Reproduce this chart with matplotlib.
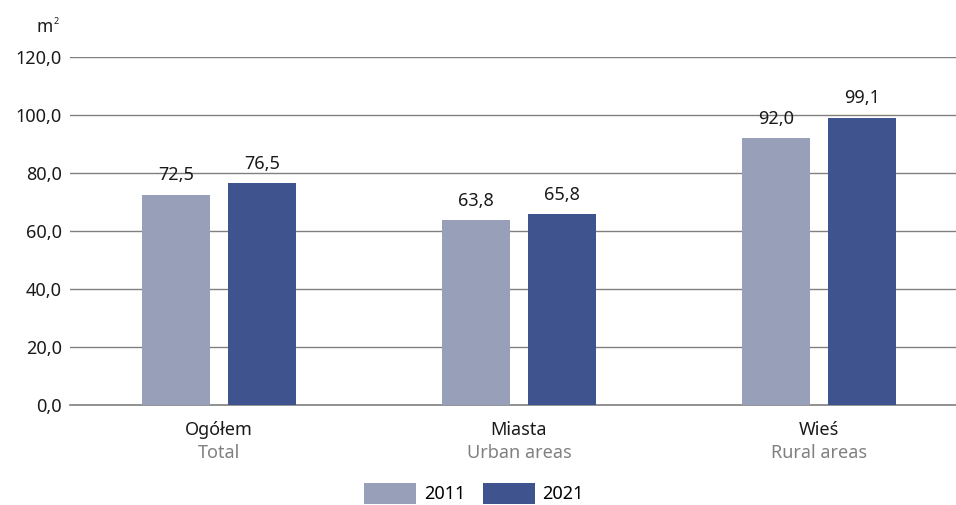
import matplotlib
matplotlib.use("Agg")
import matplotlib.pyplot as plt
import numpy as np
from matplotlib.patches import Patch

plt.rcParams['font.family'] = ['Noto Sans', 'DejaVu Sans']

categories_pl = ["Ogółem", "Miasta", "Wieś"]
categories_en = ["Total", "Urban areas", "Rural areas"]
years = ["2011", "2021"]
values_2011 = [72.5, 63.8, 92.0]
values_2021 = [76.5, 65.8, 99.1]
yticks = [0, 20, 40, 60, 80, 100, 120]

c2011 = "#97A0B8"
c2021 = "#3F538F"
grid_c = "#808080"
txt_c = "#1a1a1a"
FS = 13

fig = plt.figure(figsize=(9.56, 5.05), dpi=100)
ax = fig.add_axes([70/956, 100/505, 886/956, 348/505])

x = np.arange(len(categories_pl))
w = 68/300
off = 43/300
b1 = ax.bar(x - off, values_2011, width=w, color=c2011, zorder=3)
b2 = ax.bar(x + off, values_2021, width=w, color=c2021, zorder=3)

def fmt(v):
    return f"{v:.1f}".replace(".", ",")

for bars, vals in ((b1, values_2011), (b2, values_2021)):
    for r, v in zip(bars, vals):
        ax.annotate(fmt(v), (r.get_x() + r.get_width()/2, v), xytext=(0, 7.5),
                    textcoords="offset points", ha="center", va="bottom",
                    fontsize=FS, color=txt_c, zorder=4)

ax.set_xlim(-149/300, 2 + 137/300)
ax.set_ylim(0, 120)
ax.set_yticks(yticks)
ax.set_yticklabels([fmt(v) for v in yticks], fontsize=FS, color=txt_c)
ax.yaxis.grid(True, color=grid_c, linewidth=1, zorder=0)
ax.tick_params(axis='y', length=0, pad=6)
ax.set_xticks([])
for s in ["top", "right", "left"]:
    ax.spines[s].set_visible(False)
ax.spines["bottom"].set_color(grid_c)
ax.spines["bottom"].set_linewidth(1.2)

for xi, pl, en in zip(x, categories_pl, categories_en):
    ax.text(xi, -0.045, pl, transform=ax.get_xaxis_transform(), ha="center", va="top",
            fontsize=FS, color=txt_c)
    ax.text(xi, -0.113, en, transform=ax.get_xaxis_transform(), ha="center", va="top",
            fontsize=FS, color="#808080")

fig.text(53/956, 1 - 32/505, "m", ha="right", va="baseline", fontsize=12.5, color=txt_c)
fig.text(54/956, 1 - 24/505, "2", ha="left", va="baseline", fontsize=6.5, color=txt_c)

handles = [Patch(facecolor=c2011), Patch(facecolor=c2021)]
fig.legend(handles, years, loc="lower center", bbox_to_anchor=(474/956, 0.002), ncol=2,
           frameon=False, fontsize=FS, handlelength=2.9, handleheight=1.45,
           handletextpad=0.4, columnspacing=1.0, borderpad=0.0, borderaxespad=0.0)

fig.savefig("out.png", dpi=100)
